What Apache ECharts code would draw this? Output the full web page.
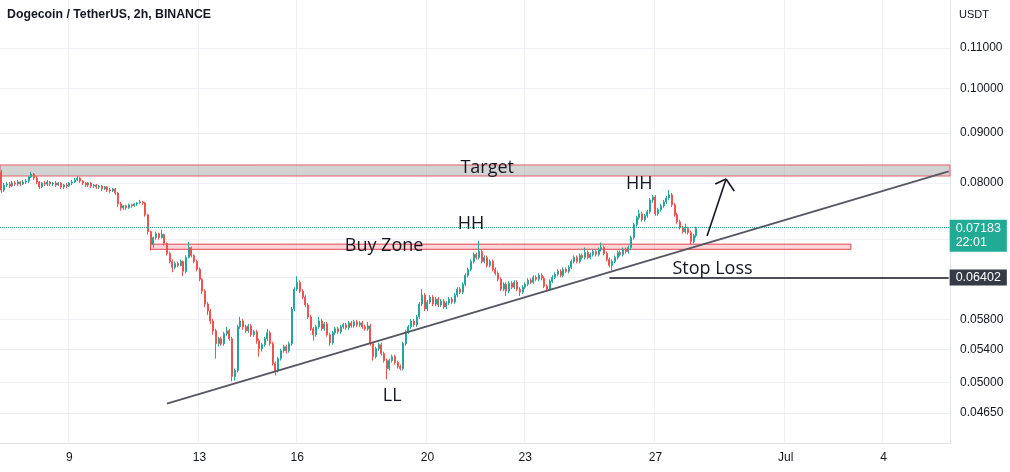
<!DOCTYPE html>
<html><head><meta charset="utf-8">
<script src="https://cdn.jsdelivr.net/npm/echarts@6/dist/echarts.min.js"></script>
<style>html,body{margin:0;padding:0;background:#fff}#c{width:1010px;height:472px}</style>
</head><body><div id="c"></div>
<script>
// ---------- data ----------
const TITLE = 'Dogecoin / TetherUS, 2h, BINANCE';
const UNIT = 'USDT';
// 2h candles starting 2022-06-06 22:00 UTC; [open, close, low, high]
const ohlc = [
[0.08210,0.07869,0.07814,0.08249],[0.07869,0.07962,0.07832,0.08000],[0.07962,0.07981,0.07925,0.08019],[0.07981,0.07944,0.07906,0.08019],[0.07944,0.08000,0.07925,0.08038],
[0.08000,0.07981,0.07944,0.08038],[0.07981,0.08019,0.07944,0.08057],[0.08019,0.07981,0.07944,0.08038],[0.07981,0.08019,0.07962,0.08057],[0.08019,0.08038,0.07981,0.08076],
[0.08038,0.08114,0.08000,0.08133],[0.08114,0.08172,0.08095,0.08210],[0.08172,0.08095,0.08057,0.08191],[0.08095,0.08019,0.07981,0.08133],[0.08019,0.07925,0.07888,0.08038],
[0.07925,0.08000,0.07906,0.08019],[0.08000,0.07981,0.07944,0.08038],[0.07981,0.08019,0.07944,0.08057],[0.08019,0.07981,0.07944,0.08038],[0.07981,0.08000,0.07944,0.08019],
[0.08000,0.07962,0.07925,0.08038],[0.07962,0.08000,0.07944,0.08019],[0.08000,0.07925,0.07888,0.08019],[0.07925,0.07962,0.07888,0.07981],[0.07962,0.07944,0.07906,0.08000],
[0.07944,0.08000,0.07925,0.08019],[0.08000,0.08019,0.07962,0.08057],[0.08019,0.08057,0.08000,0.08095],[0.08057,0.08095,0.08038,0.08133],[0.08095,0.08038,0.08000,0.08114],
[0.08038,0.08000,0.07962,0.08057],[0.08000,0.07962,0.07925,0.08019],[0.07962,0.08000,0.07925,0.08019],[0.08000,0.07944,0.07906,0.08019],[0.07944,0.07962,0.07906,0.07981],
[0.07962,0.07925,0.07888,0.07981],[0.07925,0.07944,0.07888,0.07962],[0.07944,0.07888,0.07851,0.07962],[0.07888,0.07925,0.07869,0.07944],[0.07925,0.07869,0.07832,0.07944],
[0.07869,0.07851,0.07814,0.07906],[0.07851,0.07888,0.07832,0.07906],[0.07888,0.07814,0.07778,0.07906],[0.07814,0.07616,0.07562,0.07832],[0.07616,0.07545,0.07492,0.07651],
[0.07545,0.07580,0.07510,0.07598],[0.07580,0.07545,0.07510,0.07598],[0.07545,0.07598,0.07527,0.07616],[0.07598,0.07580,0.07545,0.07616],[0.07580,0.07616,0.07562,0.07633],
[0.07616,0.07633,0.07580,0.07651],[0.07633,0.07651,0.07616,0.07687],[0.07651,0.07633,0.07598,0.07669],[0.07633,0.07422,0.07388,0.07651],[0.07422,0.07133,0.07083,0.07440],
[0.07133,0.06919,0.06822,0.07149],[0.06919,0.07033,0.06870,0.07050],[0.07033,0.07099,0.07000,0.07133],[0.07099,0.07033,0.07000,0.07116],[0.07033,0.07083,0.07017,0.07166],
[0.07083,0.06935,0.06902,0.07099],[0.06935,0.06774,0.06743,0.06951],[0.06774,0.06649,0.06618,0.06806],[0.06649,0.06556,0.06480,0.06680],[0.06556,0.06618,0.06526,0.06649],
[0.06618,0.06587,0.06556,0.06649],[0.06587,0.06649,0.06572,0.06680],[0.06649,0.06495,0.06420,0.06664],[0.06495,0.06711,0.06465,0.06743],[0.06711,0.06870,0.06696,0.06967],
[0.06870,0.06743,0.06711,0.06886],[0.06743,0.06649,0.06618,0.06759],[0.06649,0.06526,0.06495,0.06680],[0.06526,0.06375,0.06345,0.06556],[0.06375,0.06199,0.06155,0.06390],
[0.06199,0.06013,0.05971,0.06228],[0.06013,0.05915,0.05860,0.06041],[0.05915,0.05778,0.05738,0.05943],[0.05778,0.05645,0.05593,0.05806],[0.05645,0.05476,0.05287,0.05672],
[0.05476,0.05540,0.05437,0.05566],[0.05540,0.05476,0.05450,0.05566],[0.05476,0.05606,0.05450,0.05632],[0.05606,0.05645,0.05579,0.05698],[0.05645,0.05540,0.05514,0.05672],
[0.05540,0.05069,0.05010,0.05566],[0.05069,0.05141,0.05022,0.05165],[0.05141,0.05698,0.05117,0.05725],[0.05698,0.05778,0.05672,0.05833],[0.05778,0.05698,0.05658,0.05806],
[0.05698,0.05645,0.05619,0.05725],[0.05645,0.05711,0.05619,0.05738],[0.05711,0.05593,0.05566,0.05738],[0.05593,0.05632,0.05566,0.05658],[0.05632,0.05514,0.05476,0.05658],
[0.05514,0.05412,0.05311,0.05540],[0.05412,0.05463,0.05374,0.05488],[0.05463,0.05540,0.05437,0.05566],[0.05540,0.05619,0.05514,0.05672],[0.05619,0.05476,0.05450,0.05645],
[0.05476,0.05226,0.05201,0.05501],[0.05226,0.05141,0.05081,0.05250],[0.05141,0.05287,0.05117,0.05311],[0.05287,0.05386,0.05262,0.05412],[0.05386,0.05437,0.05361,0.05463],
[0.05437,0.05386,0.05349,0.05463],[0.05386,0.05476,0.05361,0.05501],[0.05476,0.05943,0.05450,0.05971],[0.05943,0.06228,0.05915,0.06257],[0.06228,0.06330,0.06199,0.06420],
[0.06330,0.06199,0.06170,0.06360],[0.06199,0.06112,0.06084,0.06228],[0.06112,0.05999,0.05971,0.06141],[0.05999,0.05833,0.05806,0.06027],[0.05833,0.05672,0.05645,0.05860],
[0.05672,0.05593,0.05514,0.05698],[0.05593,0.05698,0.05566,0.05725],[0.05698,0.05778,0.05672,0.05833],[0.05778,0.05672,0.05645,0.05806],[0.05672,0.05738,0.05645,0.05765],
[0.05738,0.05593,0.05566,0.05765],[0.05593,0.05488,0.05450,0.05619],[0.05488,0.05619,0.05463,0.05645],[0.05619,0.05672,0.05593,0.05698],[0.05672,0.05632,0.05606,0.05698],
[0.05632,0.05698,0.05606,0.05725],[0.05698,0.05725,0.05672,0.05751],[0.05725,0.05685,0.05658,0.05751],[0.05685,0.05751,0.05658,0.05778],[0.05751,0.05711,0.05685,0.05778],
[0.05711,0.05765,0.05685,0.05792],[0.05765,0.05725,0.05698,0.05792],[0.05725,0.05751,0.05698,0.05778],[0.05751,0.05698,0.05672,0.05778],[0.05698,0.05672,0.05645,0.05725],
[0.05672,0.05711,0.05645,0.05765],[0.05711,0.05476,0.05450,0.05738],[0.05476,0.05311,0.05262,0.05501],[0.05311,0.05412,0.05287,0.05437],[0.05412,0.05463,0.05386,0.05488],
[0.05463,0.05349,0.05324,0.05488],[0.05349,0.05262,0.05238,0.05374],[0.05262,0.05165,0.05034,0.05287],[0.05165,0.05262,0.05141,0.05287],[0.05262,0.05311,0.05238,0.05336],
[0.05311,0.05238,0.05213,0.05336],[0.05238,0.05189,0.05165,0.05262],[0.05189,0.05165,0.05141,0.05213],[0.05165,0.05476,0.05141,0.05501],[0.05476,0.05632,0.05450,0.05658],
[0.05632,0.05698,0.05606,0.05725],[0.05698,0.05778,0.05672,0.05806],[0.05778,0.05725,0.05698,0.05806],[0.05725,0.05833,0.05698,0.05860],[0.05833,0.06013,0.05806,0.06041],
[0.06013,0.06141,0.05985,0.06228],[0.06141,0.05943,0.05915,0.06170],[0.05943,0.06041,0.05915,0.06070],[0.06041,0.06112,0.06013,0.06141],[0.06112,0.06013,0.05985,0.06141],
[0.06013,0.06084,0.05985,0.06112],[0.06084,0.05999,0.05971,0.06112],[0.05999,0.06055,0.05971,0.06084],[0.06055,0.05971,0.05943,0.06084],[0.05971,0.06027,0.05943,0.06055],
[0.06027,0.06084,0.05999,0.06112],[0.06084,0.06041,0.06013,0.06112],[0.06041,0.06141,0.06013,0.06170],[0.06141,0.06228,0.06112,0.06257],[0.06228,0.06184,0.06155,0.06257],
[0.06184,0.06301,0.06155,0.06330],[0.06301,0.06435,0.06272,0.06465],[0.06435,0.06526,0.06405,0.06556],[0.06526,0.06649,0.06495,0.06680],[0.06649,0.06759,0.06618,0.06790],
[0.06759,0.06711,0.06680,0.06790],[0.06711,0.06806,0.06680,0.06984],[0.06806,0.06649,0.06618,0.06838],[0.06649,0.06711,0.06618,0.06743],[0.06711,0.06587,0.06556,0.06743],
[0.06587,0.06649,0.06556,0.06680],[0.06649,0.06526,0.06495,0.06680],[0.06526,0.06465,0.06435,0.06556],[0.06465,0.06375,0.06345,0.06495],[0.06375,0.06228,0.06199,0.06405],
[0.06228,0.06301,0.06199,0.06330],[0.06301,0.06199,0.06127,0.06330],[0.06199,0.06316,0.06170,0.06345],[0.06316,0.06257,0.06228,0.06345],[0.06257,0.06330,0.06228,0.06360],
[0.06330,0.06228,0.06199,0.06360],[0.06228,0.06184,0.06127,0.06257],[0.06184,0.06257,0.06155,0.06286],[0.06257,0.06301,0.06228,0.06330],[0.06301,0.06360,0.06272,0.06390],
[0.06360,0.06330,0.06301,0.06390],[0.06330,0.06405,0.06301,0.06435],[0.06405,0.06375,0.06345,0.06435],[0.06375,0.06435,0.06345,0.06465],[0.06435,0.06390,0.06360,0.06465],
[0.06390,0.06272,0.06242,0.06420],[0.06272,0.06228,0.06184,0.06301],[0.06228,0.06345,0.06199,0.06375],[0.06345,0.06405,0.06316,0.06435],[0.06405,0.06450,0.06375,0.06480],
[0.06450,0.06495,0.06420,0.06526],[0.06495,0.06435,0.06405,0.06526],[0.06435,0.06526,0.06405,0.06556],[0.06526,0.06495,0.06465,0.06556],[0.06495,0.06556,0.06465,0.06587],
[0.06556,0.06649,0.06526,0.06680],[0.06649,0.06711,0.06618,0.06743],[0.06711,0.06649,0.06618,0.06743],[0.06649,0.06743,0.06618,0.06774],[0.06743,0.06711,0.06680,0.06774],
[0.06711,0.06790,0.06680,0.06870],[0.06790,0.06711,0.06680,0.06822],[0.06711,0.06759,0.06680,0.06790],[0.06759,0.06806,0.06727,0.06838],[0.06806,0.06759,0.06727,0.06838],
[0.06759,0.06838,0.06727,0.06870],[0.06838,0.06870,0.06806,0.06951],[0.06870,0.06774,0.06743,0.06902],[0.06774,0.06680,0.06649,0.06806],[0.06680,0.06587,0.06556,0.06711],
[0.06587,0.06649,0.06511,0.06680],[0.06649,0.06711,0.06618,0.06743],[0.06711,0.06790,0.06680,0.06822],[0.06790,0.06759,0.06727,0.06822],[0.06759,0.06838,0.06727,0.06870],
[0.06838,0.06806,0.06774,0.06870],[0.06806,0.06870,0.06774,0.06902],[0.06870,0.07033,0.06838,0.07066],[0.07033,0.07251,0.07000,0.07285],[0.07251,0.07370,0.07217,0.07405],
[0.07370,0.07440,0.07336,0.07510],[0.07440,0.07336,0.07302,0.07475],[0.07336,0.07405,0.07302,0.07440],[0.07405,0.07475,0.07370,0.07510],[0.07475,0.07687,0.07440,0.07723],
[0.07687,0.07741,0.07633,0.07778],[0.07741,0.07440,0.07405,0.07778],[0.07440,0.07510,0.07405,0.07545],[0.07510,0.07580,0.07475,0.07616],[0.07580,0.07651,0.07545,0.07687],
[0.07651,0.07723,0.07616,0.07759],[0.07723,0.07778,0.07687,0.07869],[0.07778,0.07598,0.07562,0.07814],[0.07598,0.07422,0.07388,0.07633],[0.07422,0.07302,0.07268,0.07457],
[0.07302,0.07200,0.07166,0.07336],[0.07200,0.07133,0.07099,0.07234],[0.07133,0.07183,0.07099,0.07268],[0.07183,0.07116,0.07083,0.07217],[0.07116,0.06967,0.06919,0.07149],
[0.06967,0.07066,0.06935,0.07099],[0.07066,0.07183,0.07033,0.07217]
];
const startTime = Date.UTC(2022, 5, 6, 22);   // first candle
const slotCount = 350;                        // visible 2h slots (incl. empty future)
const tickDays = ['06-09','06-13','06-16','06-20','06-23','06-27','07-01','07-04'];
const tickLabels = ['9','13','16','20','23','27','Jul','4'];
const priceGrid = [0.0465,0.05,0.054,0.058,0.064,0.07,0.08,0.09,0.10,0.11];
const priceLabels = [0.0465,0.05,0.054,0.058,0.08,0.09,0.10,0.11];
const priceRange = [0.043326, 0.12318];
const targetZone = [0.08133, 0.08347];
const buyZone = [0.06842, 0.06925];
const buyZoneSlots = [55, 313];
const trendLine = [[61, 0.04754], [349, 0.08222]];
const stopLoss = {from: 224, to: 349, price: 0.06402};
const lastPrice = 0.07183;
const countdown = '22:01';
const lastSlot = 349;
const arrowLines = [
  [[260, 0.07060], [267, 0.08076]],
  [[263, 0.07981], [267, 0.08076]],
  [[270, 0.07850], [267, 0.08076]]
];
const notes = [
  ['Target', 179, 0.08288],
  ['Buy Zone', 141, 0.06902],
  ['HH', 173, 0.07268],
  ['HH', 235, 0.07981],
  ['LL', 144, 0.04838],
  ['Stop Loss', 262, 0.06526]
];

// ---------- chart ----------
const L = Math.log;
const pad = n => (n < 10 ? '0' : '') + n;
const cats = [];
for (let i = 0; i < slotCount; i++) {
  const d = new Date(startTime + i * 7200000);
  cats.push(pad(d.getUTCMonth() + 1) + '-' + pad(d.getUTCDate()) + ' ' + pad(d.getUTCHours()));
}
const tickMap = {};
tickDays.forEach((d, k) => { tickMap[d + ' 00'] = tickLabels[k]; });
const isTick = (i, v) => tickMap[v] !== undefined;

const UP = '#26a69a', DOWN = '#ef5350', INK = '#131722';
const noteFont = 'Open Sans';

const markLines = [
  {yAxis: L(lastPrice), lineStyle: {type: 'dotted', color: UP, width: 1}},
  [{coord: [trendLine[0][0], L(trendLine[0][1])], lineStyle: {color: '#555862', width: 2, type: 'solid'}},
   {coord: [trendLine[1][0], L(trendLine[1][1])]}],
  [{coord: [stopLoss.from, L(stopLoss.price)], lineStyle: {color: INK, width: 1.5, type: 'solid'},
    label: {show: true, position: 'end', distance: 1, formatter: stopLoss.price.toFixed(5),
            backgroundColor: '#363a45', color: '#fff', padding: [2, 6, 1, 6], fontSize: 12.5}},
   {coord: [stopLoss.to, L(stopLoss.price)]}]
].concat(arrowLines.map(seg => [
  {coord: [seg[0][0], L(seg[0][1])], lineStyle: {color: INK, width: 1.6, type: 'solid'}},
  {coord: [seg[1][0], L(seg[1][1])]}
]));

const noteMarks = notes.map(n => ({name: n[0], coord: [n[1], L(n[2])]}));
noteMarks.push({
  name: lastPrice.toFixed(5) + '\n' + countdown, coord: [lastSlot, L(lastPrice)],
  label: {position: 'right', distance: 1, offset: [0, 7], fontFamily: 'Liberation Sans', fontSize: 12.5, lineHeight: 14,
          color: '#fff', backgroundColor: '#22ab94', padding: [2, 6, 2, 6], align: 'left'}
});

const option = {
  animation: false,
  textStyle: {fontFamily: 'Liberation Sans'},
  title: [
    {text: TITLE, left: 7, top: 9, padding: 0, textStyle: {fontSize: 12.3, fontWeight: 'bold', color: INK, fontFamily: 'Liberation Sans'}},
    {text: UNIT, left: 959, top: 9, padding: 0, textStyle: {fontSize: 11, fontWeight: 'normal', color: INK, fontFamily: 'Liberation Sans'}}
  ],
  grid: {left: 0, right: 60, top: 0, bottom: 29},
  xAxis: {
    type: 'category', data: cats, boundaryGap: true,
    axisLine: {lineStyle: {color: '#e0e3eb'}},
    axisTick: {show: false},
    axisLabel: {interval: isTick, formatter: v => tickMap[v], color: INK, fontSize: 12, margin: 9},
    splitLine: {show: true, interval: isTick, lineStyle: {color: '#eef0f5'}}
  },
  yAxis: {
    type: 'value', position: 'right', min: L(priceRange[0]), max: L(priceRange[1]),
    axisLine: {show: true, lineStyle: {color: '#e0e3eb'}},
    axisTick: {show: false, customValues: priceGrid.map(L)},
    axisLabel: {customValues: priceLabels.map(L), formatter: v => Math.exp(v).toFixed(5), color: INK, fontSize: 12, margin: 10},
    splitLine: {show: true, lineStyle: {color: '#eef0f5'}}
  },
  series: [{
    type: 'candlestick',
    data: ohlc.map(r => r.map(L)),
    barWidth: 1.5,
    itemStyle: {color: UP, color0: DOWN, borderColor: UP, borderColor0: DOWN, borderWidth: 1},
    markArea: {
      silent: true,
      data: [
        [{yAxis: L(targetZone[1]), itemStyle: {color: 'rgba(150,150,150,0.42)', borderColor: '#e0626c', borderWidth: 1}},
         {yAxis: L(targetZone[0])}],
        [{coord: [buyZoneSlots[0], L(buyZone[1])], itemStyle: {color: 'rgba(242,54,69,0.2)', borderColor: '#e0414f', borderWidth: 1}},
         {coord: [buyZoneSlots[1], L(buyZone[0])]}]
      ]
    },
    markLine: {silent: true, symbol: ['none', 'none'], label: {show: false}, data: markLines},
    markPoint: {
      silent: true, symbol: 'circle', symbolSize: 0, itemStyle: {color: 'rgba(0,0,0,0)'},
      label: {show: true, position: 'inside', formatter: p => p.name, color: INK, fontSize: 18, fontFamily: noteFont},
      data: noteMarks
    }
  }]
};
const chart = echarts.init(document.getElementById('c'), null, {renderer: 'canvas'});
chart.setOption(option);
</script></body></html>
